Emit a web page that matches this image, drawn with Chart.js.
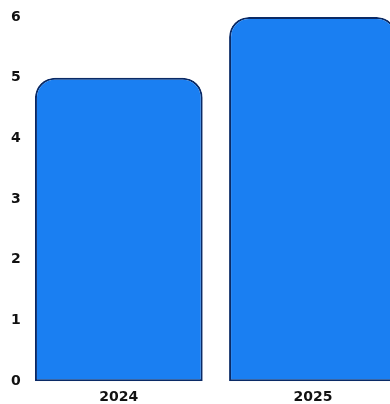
<!DOCTYPE html>
<html>
<head>
<meta charset="utf-8">
<script src="https://cdn.jsdelivr.net/npm/chart.js@4"></script>
<style>
  html, body { margin: 0; padding: 0; background: #fff; overflow: hidden; }
</style>
</head>
<body>
<canvas id="myChart" width="412" height="411"></canvas>
<script>
const years = ['2024', '2025'];
const counts = [5, 6];
const yTicks = [0, 1, 2, 3, 4, 5, 6];

const ctx = document.getElementById('myChart').getContext('2d');

const myChart = new Chart(ctx, {
    type: 'bar',
    data: {
        labels: years,
        datasets: [{
            data: counts,
            backgroundColor: '#1a7ff2',
            borderColor: '#0a2a66',
            borderWidth: 2,
            borderSkipped: false,
            borderRadius: { topLeft: 20, topRight: 20, bottomLeft: 0, bottomRight: 0 },
            categoryPercentage: 0.9,
            barPercentage: 0.96
        }]
    },
    options: {
        responsive: false,
        animation: false,
        layout: {
            padding: { left: 10, right: 2, top: 17, bottom: 5 }
        },
        scales: {
            x: {
                grid: { display: false },
                border: { display: false },
                ticks: {
                    color: '#111',
                    padding: 0,
                    font: { family: 'DejaVu Sans', size: 14, weight: 'bold' }
                }
            },
            y: {
                min: 0,
                max: 6,
                grid: { display: false, drawTicks: false },
                border: { display: false },
                afterBuildTicks: function(axis) {
                    axis.ticks = yTicks.map(v => ({ value: v }));
                },
                ticks: {
                    color: '#111',
                    padding: 1,
                    font: { family: 'DejaVu Sans', size: 14, weight: 'bold' }
                }
            }
        },
        plugins: {
            legend: { display: false },
            tooltip: { enabled: false }
        }
    }
});
</script>
</body>
</html>
